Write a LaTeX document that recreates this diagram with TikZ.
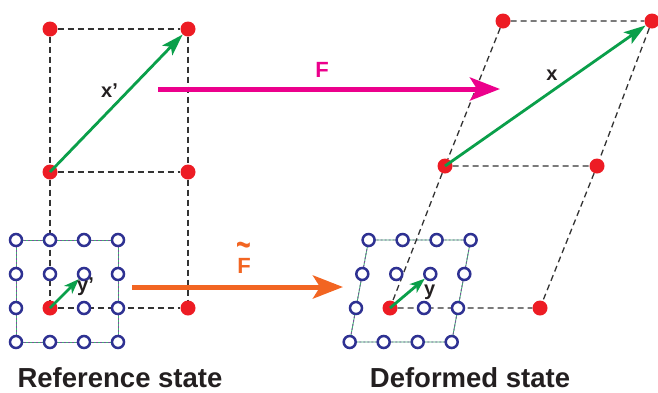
\documentclass[tikz,border=0pt]{standalone}
\usepackage{fontspec}
\setmainfont{Liberation Sans}
\usepackage{graphicx}
\usepackage{tikz}
\usetikzlibrary{arrows.meta, backgrounds}
\usepackage{xcolor}
\definecolor{defred}{HTML}{ED1C24}
\definecolor{defgreen}{HTML}{0A9F4A}
\definecolor{defmag}{HTML}{EC008C}
\definecolor{deforange}{HTML}{F26522}
\definecolor{defblue}{HTML}{2E3192}
\definecolor{defpurple}{HTML}{7B4E9E}
\definecolor{deftext}{HTML}{231F20}

\begin{document}
\begin{tikzpicture}[x=1pt, y=-1pt,
    rdot/.style={circle, fill=defred, inner sep=0pt, minimum size=15pt},
    odot/.style={circle, draw=defblue, line width=2.5pt, fill=white,
                 inner sep=0pt, minimum size=12pt},
    guide/.style={black!80, line width=1.3pt, dash pattern=on 6pt off 4pt},
    cell/.style={draw=defgreen!80, line width=0.9pt,
                 postaction={draw=defpurple, dash pattern=on 2pt off 2pt}},
    vec/.style={-{Stealth[length=22pt, width=14pt, inset=5pt]}, defgreen,
                line width=2.8pt},
    map/.style={-{Stealth[length=30pt, width=23pt, inset=7pt]}, line width=5pt},
    lbl/.style={inner sep=0pt, text=deftext,
                font=\fontsize{20}{22}\selectfont\bfseries},
    maplbl/.style={inner sep=0pt, font=\fontsize{22}{24}\selectfont\bfseries},
    state/.style={inner sep=0pt, text=deftext,
                  font=\fontsize{27.5}{30}\selectfont\bfseries}]
  \useasboundingbox (0,0) rectangle (658,392);

  % lattice points, reference and deformed
  \foreach \i in {0,...,3}
    \foreach \j in {0,...,3} {
      \ifnum\i\j=12 \else
        \node[odot] (p\i\j) at ({16+34*\i}, {240+34*\j}) {};
        \node[odot] (q\i\j) at ({356+34*\i-6.3*(\j-2)}, {240+34*\j}) {};
      \fi
    }

  % material points
  \node[rdot] (rA) at (50,29) {};
  \node[rdot] (rB) at (188,29) {};
  \node[rdot] (rC) at (50,172) {};
  \node[rdot] (rD) at (188,172) {};
  \node[rdot] (rE) at (50,308) {};
  \node[rdot] (rF) at (188,308) {};
  \node[rdot] (dA) at (503,21) {};
  \node[rdot] (dB) at (652,21) {};
  \node[rdot] (dC) at (445,166) {};
  \node[rdot] (dD) at (597,166) {};
  \node[rdot] (dE) at (390,308) {};
  \node[rdot] (dF) at (540,308) {};

  \begin{scope}[on background layer]
    \draw[cell] (p00.center) -- (p30.center) -- (p33.center) -- (p03.center) -- cycle;
    \draw[cell] (q00.center) -- (q30.center) -- (q33.center) -- (q03.center) -- cycle;
    \draw[guide] (rA) -- (rB) (rC) -- (rD) (rE) -- (rF)
                 (rA) -- (rC) (rC) -- (rE) (rB) -- (rD) (rD) -- (rF);
    \draw[guide] (dA) -- (dB) (dC) -- (dD) (dE) -- (dF)
                 (dA) -- (dC) (dC) -- (dE) (dB) -- (dD) (dD) -- (dF);
  \end{scope}

  % vectors
  \draw[vec] (rC.center) -- (rB);
  \draw[vec] (dC.center) -- (dB);
  \draw[vec, -{Stealth[length=15pt, width=11pt, inset=4pt]}] (rE.center) -- (p21);
  \draw[vec, -{Stealth[length=15pt, width=11pt, inset=4pt]}] (dE.center) -- (q21);

  % mappings
  \coordinate (Fbeg) at (158,89);
  \coordinate (Fend) at (500,89);
  \coordinate (Gbeg) at (132,287);
  \coordinate (Gend) at (343,287);
  \draw[map, defmag] (Fbeg) -- (Fend);
  \draw[map, deforange] (Gbeg) -- (Gend);

  \node[maplbl, text=defmag, anchor=base] (Flbl) at (322,77) {F};
  \node[maplbl, text=deforange, anchor=base] (Glbl) at (244,273)
    {\ooalign{F\cr\hidewidth\raisebox{0.72em}{\scalebox{1.15}[1.7]{\textasciitilde}}\hidewidth\cr}};
  \node[lbl, anchor=base west] (xr) at (101,97) {x’};
  \node[lbl, anchor=base] (xd) at (552,80) {x};
  \node[lbl, anchor=base west] (yr) at (77,291) {y’};
  \node[lbl, anchor=base west] (yd) at (424,295) {y};

  \node[state, anchor=base] (sr) at (120,387) {Reference state};
  \node[state, anchor=base] (sd) at (470,387) {Deformed state};
\end{tikzpicture}
\end{document}
